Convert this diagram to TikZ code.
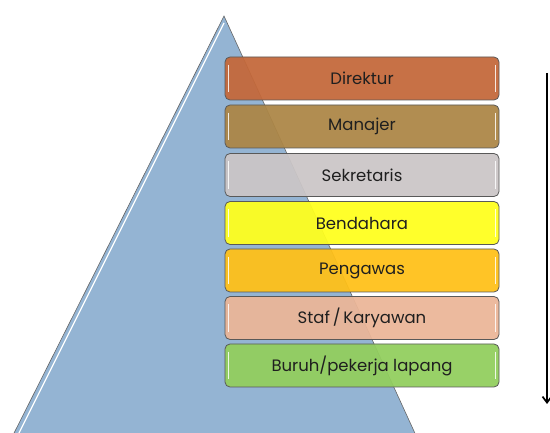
\documentclass[tikz,border=0pt]{standalone}
\usepackage{fontspec}
\setmainfont{Poppins}
\usetikzlibrary{calc,arrows.meta}
\definecolor{tri}{HTML}{94B4D3}
\definecolor{cA}{HTML}{C4683A}
\definecolor{cB}{HTML}{AC8646}
\definecolor{cC}{HTML}{CBC6C7}
\definecolor{cD}{HTML}{FFFF1E}
\definecolor{cE}{HTML}{FFC018}
\definecolor{cF}{HTML}{EBB698}
\definecolor{cG}{HTML}{92CE5E}
\tikzset{
  lvl/.style={draw=black!65, line width=0.8pt, rounded corners=5pt, fill opacity=0.94,
    minimum width=274pt, minimum height=43pt, inner sep=0pt, text opacity=1,
    font=\fontsize{16.5}{16.5}\selectfont, text=black!88},
}
\begin{document}
\begin{tikzpicture}[x=1pt,y=-1pt]
\useasboundingbox (0,0) rectangle (550,433);
\begin{scope}
\clip (0,0) rectangle (550,433);
\coordinate (apex) at (224,16);
\coordinate (bl) at (4,453);
\coordinate (br) at (424,453);
\fill[tri] (apex) -- (bl) -- (br) -- cycle;
\draw[black!60, line width=0.6pt] (bl) -- (apex) -- (br);
\draw[white, line width=1.2pt] ($(apex)+(0,7)$) -- ($(bl)+(5,0)$);
\end{scope}
\foreach \n/\c/\t/\y in {a/cA/{Direktur}/78.5, b/cB/{Manajer}/126.5, c/cC/{Sekretaris}/175, d/cD/{Bendahara}/223, e/cE/{Pengawas}/270.5, f/cF/{Staf\,/\,Karyawan}/318, g/cG/{Buruh/pekerja lapang}/365.5}{
  \node[lvl, fill=\c] (\n) at (362,\y) {\t};
  \draw[white, line width=1.6pt, opacity=0.85] ([xshift=4pt,yshift=-8pt]\n.north west) -- ([xshift=4pt,yshift=8pt]\n.south west);
  \draw[white, line width=1.6pt, opacity=0.85] ([xshift=-4pt,yshift=-8pt]\n.north east) -- ([xshift=-4pt,yshift=8pt]\n.south east);
}
\coordinate (top) at (547,73);
\coordinate (bot) at (547,404);
\draw[black, line width=1.7pt, -{Straight Barb[length=6pt,width=9pt]}] (top) -- (bot);
\end{tikzpicture}
\end{document}
